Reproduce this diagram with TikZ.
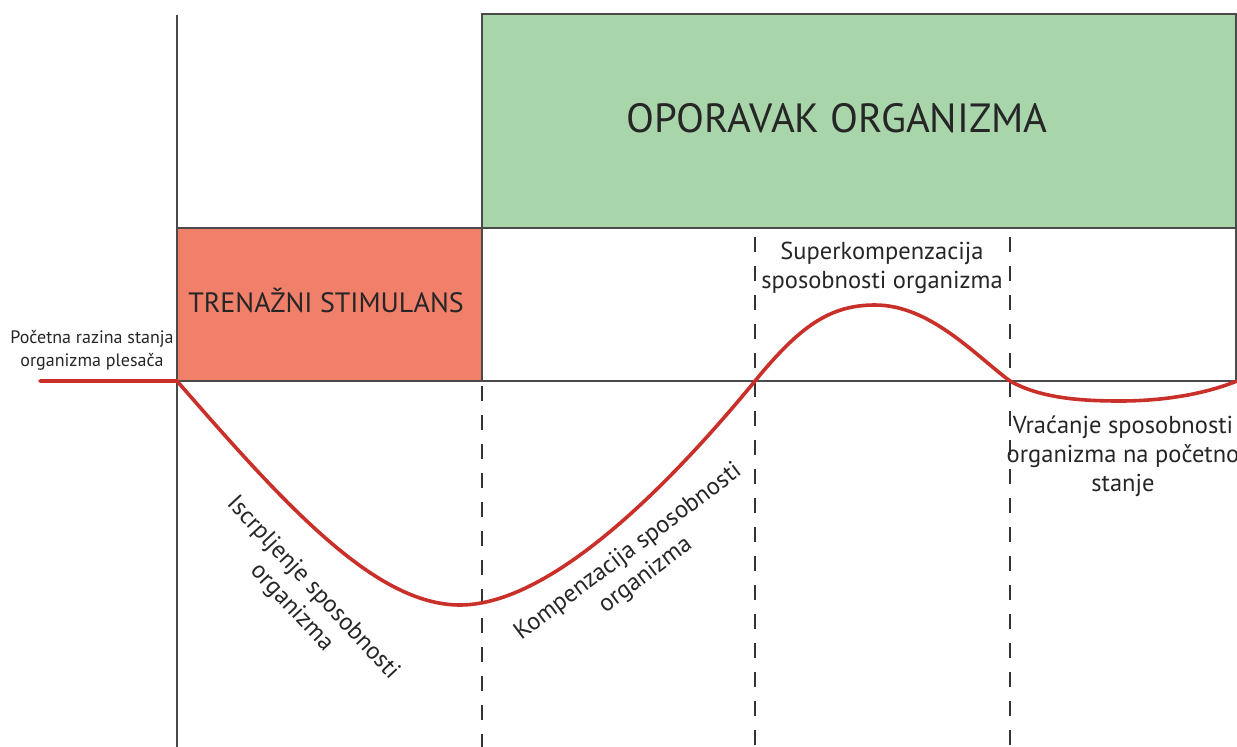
\documentclass[tikz,border=0pt]{standalone}
\usepackage{fontspec}
\setmainfont{PT Sans}
\definecolor{greenbox}{HTML}{A9D5AB}
\definecolor{redbox}{HTML}{F0806A}
\definecolor{curvered}{HTML}{C9302A}
\definecolor{linegray}{HTML}{4A4A4A}
\begin{document}
\begin{tikzpicture}[x=1pt,y=-1pt,
  frame/.style={draw=linegray,line width=1.3pt},
  dashline/.style={draw=black!80,line width=1.2pt,dash pattern=on 15pt off 14pt},
  curve/.style={draw=curvered,line width=3.6pt,line cap=round},
  lbl/.style={text=black!85,align=center,font=\fontsize{24.5}{29}\selectfont,inner sep=0pt}]
\useasboundingbox (0,0) rectangle (1237,747);
% boxes
\fill[greenbox] (482,14) rectangle (1236,228);
\fill[redbox] (177,228) rectangle (482,381);
\draw[frame] (482,228) -- (482,14) -- (1236,14) -- (1236,381);
\draw[frame] (177,15) -- (177,747);
\draw[frame] (177,228) -- (1236,228);
\draw[frame] (482,228) -- (482,381);
\draw[draw=linegray,line width=1.1pt] (177,381) -- (1236,381);
% dashed dividers
\draw[dashline] (482,386) -- (482,747);
\draw[dashline] (755,237) -- (755,747);
\draw[dashline] (1010,237) -- (1010,747);
% curve
\coordinate (s) at (40,381);
\coordinate (a) at (177,381);
\coordinate (m1) at (460,605);
\coordinate (c1) at (755,381);
\coordinate (p) at (875,305);
\coordinate (c2) at (1010,381);
\coordinate (m2) at (1120,401);
\coordinate (e) at (1237,381);
\draw[curve] (s) -- (a)
  .. controls (285,505) and (375,605) .. (m1)
  .. controls (560,605) and (690,460) .. (c1)
  .. controls (800,326) and (830,305) .. (p)
  .. controls (930,305) and (975,355) .. (c2)
  .. controls (1040,398) and (1080,401) .. (m2)
  .. controls (1170,401) and (1210,392) .. (e);
% labels
\node[lbl,font=\fontsize{40.8}{48}\selectfont] (op) at (837,118) {OPORAVAK ORGANIZMA};
\node[lbl,font=\fontsize{28}{32}\selectfont] (tr) at (326,300) {TRENAŽNI STIMULANS};
\node[lbl,font=\fontsize{18}{23}\selectfont] (pr) at (92,350) {Početna razina stanja\\organizma plesača};
\node[lbl] (su) at (882,268) {Superkompenzacija\\sposobnosti organizma};
\node[lbl] (vr) at (1123,456) {Vraćanje sposobnosti\\organizma na početno\\stanje};
\node[lbl,rotate=-47] (is) at (302,598) {Iscrpljenje sposobnosti\\organizma};
\node[lbl,rotate=37] (ko) at (637,564) {Kompenzacija sposobnosti\\organizma};
\end{tikzpicture}
\end{document}
